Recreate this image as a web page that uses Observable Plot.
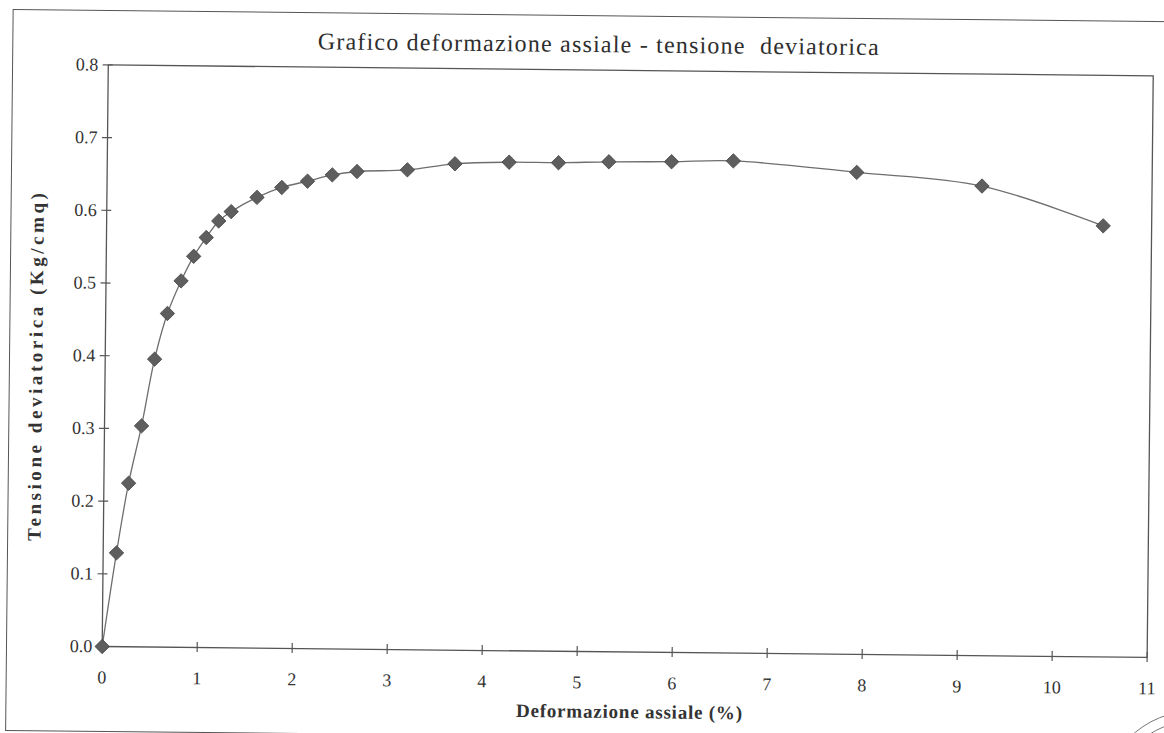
<!DOCTYPE html>
<html>
<head>
<meta charset="utf-8">
<script src="https://cdn.jsdelivr.net/npm/d3@7"></script>
<script src="https://cdn.jsdelivr.net/npm/@observablehq/plot@0.6"></script>
<style>
  html, body { margin: 0; padding: 0; background: #fff; width: 1164px; height: 733px; overflow: hidden; }
  #sheet {
    position: absolute; left: 0; top: 0; width: 1164px; height: 733px;
    transform: rotate(0.6deg); transform-origin: 101.7px 646px;
    font-family: "Liberation Serif", "Times New Roman", serif; color: #333;
  }
  #border { position: absolute; left: 6px; top: 10px; width: 1230px; height: 720px; border: 1.3px solid #555; }
  #title {
    position: absolute; left: 0; top: 28px; width: 1185px; text-align: center;
    font-size: 24px; line-height: 23px; color: #2e2e2e; letter-spacing: 1.2px;
  }
  #chart { position: absolute; left: 0; top: 56px; }
  #chart svg { overflow: visible; }
  .stamp { position: absolute; border: 1.4px solid #777; border-radius: 50%; }
</style>
</head>
<body>
<div id="sheet">
  <div id="border"></div>
  <div id="title">Grafico deformazione assiale - tensione&nbsp; deviatorica</div>
  <div id="chart"></div>
</div>
<div class="stamp" style="left:1100px; top:710px; width:190px; height:190px;"></div>
<div class="stamp" style="left:1110px; top:720px; width:170px; height:170px;"></div>
<script>
// Axial strain (%) and deviator stress (kg/cm²) from the triaxial test
const strain = [0, 0.14, 0.26, 0.39, 0.52, 0.65, 0.79, 0.92, 1.05, 1.18, 1.31,
  1.58, 1.84, 2.11, 2.37, 2.63, 3.16, 3.66, 4.23, 4.75, 5.28, 5.94, 6.59,
  7.89, 9.21, 10.49];
const stress = [0, 0.129, 0.225, 0.304, 0.396, 0.459, 0.504, 0.538, 0.564, 0.587, 0.600,
  0.620, 0.634, 0.643, 0.652, 0.657, 0.660, 0.669, 0.672, 0.672, 0.674, 0.675, 0.677,
  0.663, 0.646, 0.593];

const xTicks = [0, 1, 2, 3, 4, 5, 6, 7, 8, 9, 10, 11];
const yTicks = [0, 0.1, 0.2, 0.3, 0.4, 0.5, 0.6, 0.7, 0.8];
const xTitle = "Deformazione assiale (%)";
const yTitle = "Tensione deviatorica (Kg/cmq)";

const points = strain.map((x, i) => ({x, y: stress[i]}));
const fmt = d3.format(".1f");

const chart = Plot.plot({
  width: 1164,
  height: 677,
  marginLeft: 101.7,
  marginRight: 17.3,
  marginTop: 8.4,
  marginBottom: 87,
  style: {fontFamily: "'Liberation Serif', 'Times New Roman', serif", fontSize: "18px", color: "#333", background: "transparent"},
  x: {domain: [0, 11]},
  y: {domain: [0, 0.8]},
  marks: [
    Plot.frame({stroke: "#555", strokeWidth: 1.3}),
    Plot.axisX({ticks: xTicks, tickSize: 10, dy: -5, tickPadding: 19, label: null, stroke: "#555", strokeWidth: 1.2}),
    Plot.axisY({ticks: yTicks, tickSize: 10, dx: 5, tickPadding: 5, tickFormat: fmt, label: null, stroke: "#555", strokeWidth: 1.2}),
    Plot.line(points, {x: "x", y: "y", curve: "catmull-rom", stroke: "#6e6e6e", strokeWidth: 1.3}),
    Plot.dot(points, {x: "x", y: "y", symbol: "diamond2", r: 6.5, fill: "#5e5e5e", stroke: "#444", strokeWidth: 0.8}),
    Plot.text([xTitle], {text: d => d, frameAnchor: "bottom", textAnchor: "middle", lineAnchor: "middle",
      dx: 5, dy: 60, fontWeight: "bold", fontSize: 19, fill: "#333"}),
    Plot.text([yTitle], {text: d => d, frameAnchor: "left", textAnchor: "middle", lineAnchor: "middle",
      dx: -69, dy: 12, rotate: -90, fontWeight: "bold", fontSize: 19, fill: "#333"})
  ]
});

// stretch the axis titles to their printed widths
const stretch = (label, length) => d3.select(chart).selectAll("text")
  .filter(function () { return this.textContent === label; })
  .attr("textLength", length).attr("lengthAdjust", "spacing");
stretch(xTitle, 226);
stretch(yTitle, 348);

document.getElementById("chart").appendChild(chart);
</script>
</body>
</html>
